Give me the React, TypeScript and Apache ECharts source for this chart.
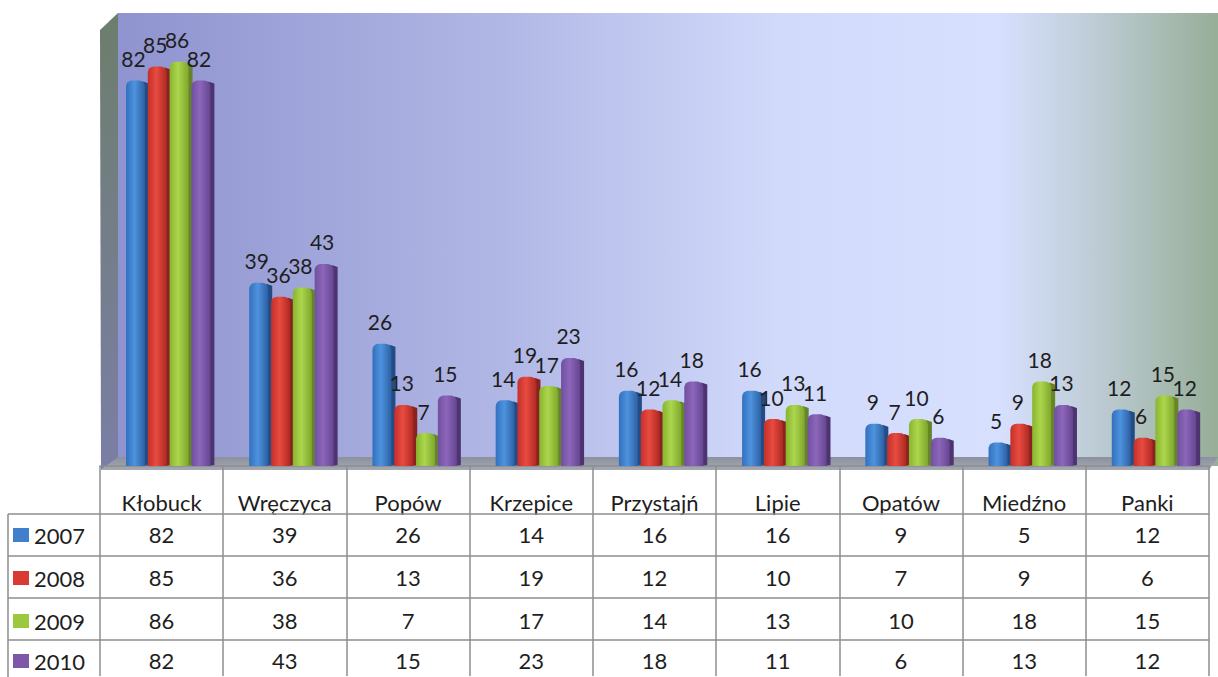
import React, { useEffect, useRef } from "react";
import * as echarts from "echarts";

const categories = ["Kłobuck", "Wręczyca", "Popów", "Krzepice", "Przystajń", "Lipie", "Opatów", "Miedźno", "Panki"];
const years = ["2007", "2008", "2009", "2010"];
const values2007 = [82, 39, 26, 14, 16, 16, 9, 5, 12];
const values2008 = [85, 36, 13, 19, 12, 10, 7, 9, 6];
const values2009 = [86, 38, 7, 17, 14, 13, 10, 18, 15];
const values2010 = [82, 43, 15, 23, 18, 11, 6, 13, 12];
const seriesValues = [values2007, values2008, values2009, values2010];

const FONT = "Lato, 'Noto Sans', sans-serif";
const baseColors = ["#3F7FCC", "#D93B32", "#9BC83C", "#7F57A9"];
const faceStops = [
  ["#3270BE", "#4E93DE", "#2C5FA3"],
  ["#C3302A", "#E84B40", "#AE2923"],
  ["#88B52F", "#ACD64D", "#7FA62B"],
  ["#7150A0", "#8C66BA", "#654591"],
];
const sideColors = ["#234C84", "#8A231F", "#66852A", "#4D3470"];

const rowCenters = [534, 577, 620, 660];
const BASE_Y = 466;
const FS = 22;

export default function App() {
  const ref = useRef<HTMLDivElement>(null);
  useEffect(() => {
    if (!ref.current) return;
    const chart = echarts.init(ref.current, undefined, { renderer: "svg" });

    const series = seriesValues.map((vals, s) => ({
      type: "custom",
      name: years[s],
      xAxisIndex: 0,
      yAxisIndex: 0,
      itemStyle: { color: baseColors[s] },
      encode: { x: 0, y: 1 },
      data: vals.map((v, i) => [i, v]),
      z: 5,
      renderItem: (params: any, api: any) => {
        const ci = api.value(0);
        const v = api.value(1);
        const base = api.coord([ci, 0]);
        const top = api.coord([ci, v]);
        const bw = api.size([1, 0])[0];
        const bandStart = base[0] - bw / 2;
        const x = bandStart + 26 + s * 21.8;
        const w = 19;
        const d = 4;
        const yTop = top[1];
        const yBot = base[1];
        const st = faceStops[s];
        return {
          type: "group",
          children: [
            {
              type: "polygon",
              shape: {
                points: [
                  [x + w - 2, yTop + 1],
                  [x + w + d, yTop + 3],
                  [x + w + d, yBot - 1],
                  [x + w - 2, yBot],
                ],
              },
              style: { fill: sideColors[s] },
            },
            {
              type: "rect",
              shape: { x: x, y: yTop, width: w, height: yBot - yTop, r: [6, 6, 0, 0] },
              style: {
                fill: new echarts.graphic.LinearGradient(0, 0, 1, 0, [
                  { offset: 0, color: st[0] },
                  { offset: 0.45, color: st[1] },
                  { offset: 1, color: st[2] },
                ]),
              },
            },
            {
              type: "text",
              style: {
                text: String(v),
                x: x + w / 2 - 2,
                y: yTop - 22,
                align: "center",
                verticalAlign: "middle",
                fontSize: 21,
                fontFamily: FONT,
                fill: "#1e1e1e",
              },
            },
          ],
        };
      },
    }));

    const rowAxes = seriesValues.map((vals, r) => ({
      type: "category",
      data: categories,
      gridIndex: 0,
      position: "bottom",
      offset: 0,
      axisLine: { show: false },
      axisTick: { show: false },
      splitLine: { show: false },
      axisLabel: {
        interval: 0,
        margin: rowCenters[r] - BASE_Y,
        verticalAlign: "middle",
        fontSize: FS,
        fontFamily: FONT,
        color: "#1e1e1e",
        formatter: (_: any, i: number) => String(vals[i]),
      },
    }));

    const legends = years.map((y, i) => ({
      data: [y],
      orient: "horizontal",
      left: 13,
      top: rowCenters[i] - 10,
      padding: 0,
      itemWidth: 16,
      itemHeight: 14,
      itemGap: 5,
      icon: "rect",
      selectedMode: false,
      textStyle: { fontSize: FS, lineHeight: 20, fontFamily: FONT, color: "#1e1e1e" },
    }));

    const lineColor = "#8e8e8e";
    const hLines = [514, 556, 598, 640].map((y) => ({
      type: "line",
      shape: { x1: 8, y1: y, x2: 1209, y2: y },
      style: { stroke: lineColor, lineWidth: 1.5 },
      z: 10,
    }));

    const option: any = {
      animation: false,
      backgroundColor: "#ffffff",
      grid: { left: 100, right: 9, top: 13, bottom: 677 - BASE_Y, outerBoundsMode: "none", containLabel: false },
      legend: legends,
      xAxis: [
        {
          type: "category",
          data: categories,
          position: "bottom",
          offset: 4,
          axisLine: { show: true, lineStyle: { color: lineColor, width: 1.5 } },
          axisTick: { show: true, interval: 0, length: 210, lineStyle: { color: lineColor, width: 1.5 } },
          splitLine: { show: false },
          axisLabel: {
            interval: 0,
            margin: 32,
            verticalAlign: "middle",
            fontSize: FS,
            fontFamily: FONT,
            color: "#1e1e1e",
          },
        },
        ...rowAxes,
      ],
      yAxis: { type: "value", min: 0, max: (BASE_Y - 13) / 4.7, show: false },
      graphic: [
        {
          type: "rect",
          z: -10,
          shape: { x: 118, y: 13, width: 1100, height: BASE_Y - 13 },
          style: {
            fill: new echarts.graphic.LinearGradient(0, 0, 1, 0, [
              { offset: 0, color: "#8F93CF" },
              { offset: 0.35, color: "#B1B7E5" },
              { offset: 0.6, color: "#D2DAFB" },
              { offset: 0.8, color: "#D7E0FF" },
              { offset: 0.88, color: "#C0CED9" },
              { offset: 1, color: "#97AE98" },
            ]),
          },
        },
        {
          type: "polygon",
          z: -9,
          shape: { points: [[100, 30], [118, 13], [118, 458], [101, 470]] },
          style: {
            fill: new echarts.graphic.LinearGradient(0, 0, 0, 1, [
              { offset: 0, color: "#6C7E6C" },
              { offset: 1, color: "#7B7EA6" },
            ]),
          },
        },
        {
          type: "polygon",
          z: -8,
          shape: { points: [[101, 470], [118, 457], [1218, 457], [1209, 470]] },
          style: {
            fill: new echarts.graphic.LinearGradient(0, 0, 0, 1, [
              { offset: 0, color: "#8C919E" },
              { offset: 1, color: "#A3A8B2" },
            ]),
          },
        },
        {
          type: "line",
          z: 10,
          shape: { x1: 8, y1: 514, x2: 8, y2: 677 },
          style: { stroke: lineColor, lineWidth: 1.5 },
        },
        ...hLines,
      ],
      series,
    };
    chart.setOption(option);
    return () => chart.dispose();
  }, []);
  return <div ref={ref} style={{ width: 1218, height: 677, position: "absolute", left: 0, top: 0 }} />;
}
